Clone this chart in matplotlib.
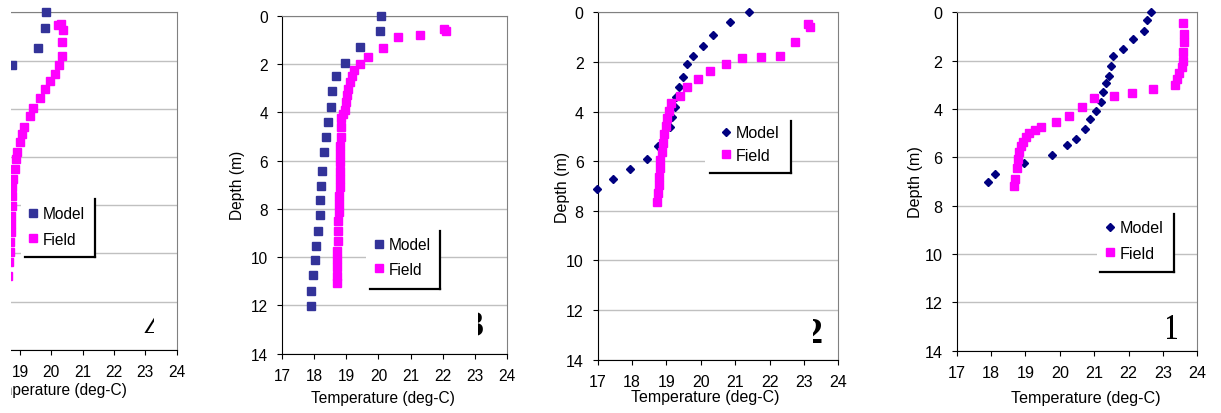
import matplotlib.pyplot as plt
from matplotlib.patches import Rectangle
from matplotlib.lines import Line2D
from matplotlib.transforms import Bbox, TransformedBbox

plt.rcParams['font.family'] = ['Liberation Sans', 'DejaVu Sans']

# readings, temperature (deg-C) and depth (m); panels numbered as labelled in the picture
p4_model_t = [19.83, 19.80, 19.56, 18.73]
p4_model_d = [0.00, 0.65, 1.49, 2.19]
p4_field_t = [20.22, 20.30, 20.38, 20.35, 20.35, 20.24, 20.12, 19.96, 19.80, 19.64, 19.43, 19.32, 19.14,
              19.07, 19.00, 18.89, 18.86, 18.84, 18.77, 18.75, 18.74, 18.73, 18.72, 18.72, 18.71, 18.68,
              18.67, 18.64, 18.63]
p4_field_d = [0.53, 0.50, 0.72, 1.25, 1.83, 2.19, 2.55, 2.86, 3.18, 3.56, 3.98, 4.32, 4.75,
              5.05, 5.39, 5.78, 6.09, 6.50, 6.92, 7.26, 7.63, 8.02, 8.44, 8.78, 9.13, 9.54,
              9.96, 10.37, 10.93]

p3_model_t = [20.08, 20.05, 19.42, 18.95, 18.67, 18.56, 18.52, 18.43, 18.36, 18.29, 18.25, 18.21, 18.18,
              18.17, 18.12, 18.05, 18.01, 17.95, 17.89, 17.89]
p3_model_d = [0.00, 0.65, 1.31, 1.96, 2.51, 3.13, 3.80, 4.42, 5.01, 5.63, 6.42, 7.04, 7.62,
              8.24, 8.91, 9.53, 10.12, 10.73, 11.39, 12.03]
p3_field_t = [22.05, 22.10, 21.30, 20.60, 20.13, 19.66, 19.43, 19.24, 19.16, 19.11, 19.06, 19.03, 18.99,
              18.96, 18.90, 18.83, 18.83, 18.83, 18.80, 18.80, 18.80, 18.80, 18.80, 18.80, 18.77, 18.77,
              18.77, 18.75, 18.75, 18.75, 18.72, 18.72, 18.72, 18.72, 18.72]
p3_field_d = [0.55, 0.65, 0.79, 0.90, 1.33, 1.73, 1.98, 2.24, 2.48, 2.76, 3.04, 3.27, 3.59,
              3.91, 4.07, 4.24, 4.62, 5.01, 5.38, 5.73, 6.07, 6.42, 6.77, 7.11, 7.46, 7.80,
              8.14, 8.49, 8.91, 9.35, 9.73, 10.08, 10.42, 10.77, 11.09]

p2_model_t = [21.40, 20.85, 20.36, 20.07, 19.78, 19.61, 19.49, 19.37, 19.28, 19.25, 19.15, 19.10, 18.76,
              18.43, 17.94, 17.45, 16.99]
p2_model_d = [0.00, 0.40, 0.91, 1.35, 1.75, 2.08, 2.60, 3.00, 3.43, 3.83, 4.23, 4.64, 5.38,
              5.91, 6.32, 6.72, 7.12]
p2_field_t = [23.13, 23.18, 22.74, 22.30, 21.75, 21.19, 20.73, 20.27, 19.93, 19.61, 19.38, 19.12, 19.08,
              19.03, 18.98, 18.93, 18.91, 18.86, 18.81, 18.81, 18.78, 18.78, 18.76, 18.72]
p2_field_d = [0.47, 0.61, 1.18, 1.75, 1.79, 1.84, 2.08, 2.38, 2.69, 3.00, 3.36, 3.66, 3.97,
              4.27, 4.57, 4.90, 5.27, 5.62, 5.95, 6.29, 6.62, 6.96, 7.30, 7.66]

p1_model_t = [22.65, 22.55, 22.46, 22.14, 21.85, 21.56, 21.49, 21.42, 21.34, 21.27, 21.20, 21.04, 20.88,
              20.73, 20.46, 20.22, 19.78, 18.97, 18.11, 17.92]
p1_model_d = [0.00, 0.32, 0.79, 1.10, 1.52, 1.79, 2.21, 2.62, 2.94, 3.31, 3.72, 4.10, 4.41,
              4.83, 5.24, 5.49, 5.90, 6.23, 6.69, 7.01]
p1_field_t = [23.59, 23.62, 23.62, 23.59, 23.59, 23.56, 23.47, 23.40, 23.35, 22.72, 22.11, 21.58, 20.99,
              20.65, 20.27, 19.88, 19.45, 19.28, 19.10, 19.02, 18.94, 18.87, 18.81, 18.77, 18.75, 18.70,
              18.67]
p1_field_d = [0.44, 0.90, 1.24, 1.66, 2.00, 2.28, 2.51, 2.76, 3.00, 3.17, 3.35, 3.45, 3.56,
              3.93, 4.28, 4.55, 4.76, 4.86, 4.99, 5.17, 5.35, 5.54, 5.77, 6.07, 6.45, 6.90,
              7.17]

x_ticks = [17, 18, 19, 20, 21, 22, 23, 24]
y_ticks = [0, 2, 4, 6, 8, 10, 12, 14]

W, H = 1221, 414
fig = plt.figure(figsize=(W / 100, H / 100), dpi=100)

# layout in pixels: axes box (l, t, r, b), legend etc.
panels = [
    dict(box=(-42.7, 13.3, 176.7, 350.7), mt=p4_model_t, md=p4_model_d, ft=p4_field_t, fd=p4_field_d,
         mk='s', mc='#333399', ms=5.2, fs=11.2, ylab=None, xlab=(54.5, 383), leg=(26.9, 207.5), sp=0.65,
         white=(21, 200, 95, 258), lline=25, num='4', nw='bold', num_at=(153, 340), clip=(143, 318, 154, 334)),
    dict(box=(282.3, 16.7, 506.7, 354.7), mt=p3_model_t, md=p3_model_d, ft=p3_field_t, fd=p3_field_d,
         mk='s', mc='#333399', ms=5.2, fs=11.2, ylab=245, xlab=(383, 391), leg=(373, 238.5), sp=0.59,
         white=(366, 232, 440, 290), lline=370, num='3', nw='bold', num_at=(475, 336), clip=(478, 310, 487, 338)),
    dict(box=(597.7, 13.3, 838.3, 360.7), mt=p2_model_t, md=p2_model_d, ft=p2_field_t, fd=p2_field_d,
         mk='D', mc='#000080', ms=4.0, fs=11.5, ylab=570, xlab=(705.5, 390), leg=(719.9, 126.5), sp=0.46,
         white=(705, 122, 791, 174), lline=710, num='2', nw='bold', num_at=(814, 343), clip=(813, 316, 823, 345)),
    dict(box=(956.7, 13.3, 1197.3, 351.7), mt=p1_model_t, md=p1_model_d, ft=p1_field_t, fd=p1_field_d,
         mk='D', mc='#000080', ms=4.0, fs=11.6, ylab=923, xlab=(1086, 391), leg=(1103.9, 221.5), sp=0.65,
         white=(1097, 215, 1174, 273), lline=1100, num='1', nw='normal', num_at=(1171, 339), clip=(1167, 312, 1177, 341)),
]

for i, p in enumerate(panels):
    l, t, r, b = p['box']
    ax = fig.add_axes([l / W, (H - b) / H, (r - l) / W, (b - t) / H])
    fx = lambda x: (x - l) / (r - l)
    fy = lambda y: (b - y) / (b - t)

    ax.plot(p['mt'], p['md'], ls='none', marker=p['mk'], ms=p['ms'], color=p['mc'],
            mec=p['mc'], label='Model', clip_on=False, zorder=3)
    ax.plot(p['ft'], p['fd'], ls='none', marker='s', ms=5.6, color='#ff00ff',
            mec='#ff00ff', label='Field', clip_on=False, zorder=3)

    ax.set_xlim(17, 24)
    ax.set_ylim(14, 0)
    ax.set_xticks(x_ticks)
    ax.set_yticks(y_ticks)
    ax.grid(axis='y', color='#c0c0c0', lw=1)
    ax.set_axisbelow(True)
    for s in ['top', 'right']:
        ax.spines[s].set_color('#808080')
    for s in ['left', 'bottom']:
        ax.spines[s].set_color('black')
    ax.tick_params(direction='out', length=3.6, width=0.8, labelsize=p['fs'], pad=6.5)
    if i == 0:
        # first panel is cut at the left: its y labels and the 17/18 labels are not shown
        ax.set_xticklabels(['', ''] + [str(v) for v in x_ticks[2:]])
        ax.set_yticklabels([])

    ax.set_xlabel('Temperature (deg-C)', fontsize=p['fs'])
    ax.xaxis.set_label_coords(fx(p['xlab'][0]), fy(p['xlab'][1]))
    if p['ylab'] is not None:
        ax.set_ylabel('Depth (m)', fontsize=p['fs'])
        ax.yaxis.set_label_coords(fx(p['ylab']), 0.5)

    # legend box with the black shadow edge on right and bottom
    wl, wt, wr, wb = p['white']
    ax.add_patch(Rectangle((fx(wl), fy(wb)), fx(wr) - fx(wl), fy(wt) - fy(wb),
                           transform=ax.transAxes, facecolor='white', edgecolor='none', zorder=4))
    ax.add_line(Line2D([fx(wr), fx(wr)], [fy(wt), fy(wb)], transform=ax.transAxes,
                       color='black', lw=1.6, zorder=6, solid_capstyle='projecting'))
    ax.add_line(Line2D([fx(p['lline']), fx(wr)], [fy(wb), fy(wb)], transform=ax.transAxes,
                       color='black', lw=1.6, zorder=6, solid_capstyle='projecting'))
    leg = ax.legend(loc='upper left', bbox_to_anchor=(fx(p['leg'][0]), fy(p['leg'][1])),
                    frameon=False, borderpad=0, borderaxespad=0, handlelength=0.8,
                    handletextpad=0.2, labelspacing=p['sp'], fontsize=p['fs'])
    leg.set_zorder(5)

    # clipped panel number
    nx, ny = p['num_at']
    txt = fig.text(nx / W, 1 - ny / H, p['num'], family=['Liberation Serif', 'DejaVu Serif'],
                   fontsize=26, fontweight=p['nw'], ha='center', va='baseline', clip_on=True)
    c0, c1, c2, c3 = p['clip']
    txt.set_clip_box(TransformedBbox(Bbox.from_extents(c0 / W, 1 - c3 / H, c2 / W, 1 - c1 / H),
                                     fig.transFigure))

# left edge of the first panel is cut off in the picture
fig.patches.append(Rectangle((0, 0), 10.5 / W, 1, transform=fig.transFigure,
                             facecolor='white', edgecolor='none', zorder=10))

fig.savefig('out.png', dpi=100)
